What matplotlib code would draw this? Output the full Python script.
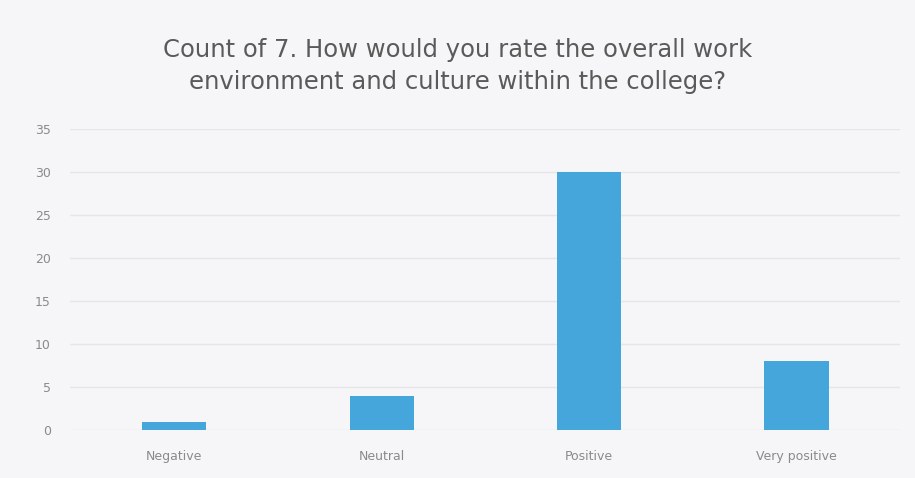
import matplotlib
matplotlib.use("Agg")
import matplotlib.pyplot as plt

categories = ["Negative", "Neutral", "Positive", "Very positive"]
counts = [1, 4, 30, 8]
yticks = [0, 5, 10, 15, 20, 25, 30, 35]

fig = plt.figure(figsize=(9.15, 4.78), dpi=100)
fig.patch.set_facecolor("#f6f6f8")
ax = fig.add_axes([0.077, 0.100, 0.907, 0.630])
ax.set_facecolor("#f6f6f8")

ax.bar(range(len(categories)), counts, width=0.31, color="#45a6dc", zorder=3)

ax.set_xlim(-0.5, len(categories) - 0.5)
ax.set_ylim(0, 35)
ax.set_yticks(yticks)
ax.set_xticks(range(len(categories)))
ax.set_xticklabels(categories)
ax.yaxis.grid(True, color="#e6e6ea", linewidth=1, zorder=0)
ax.tick_params(axis="both", length=0, colors="#8a8a8a", labelsize=9)
ax.tick_params(axis="x", pad=14)
ax.tick_params(axis="y", pad=14)
for s in ax.spines.values():
    s.set_visible(False)

fig.text(0.5, 0.862, "Count of 7. How would you rate the overall work\nenvironment and culture within the college?",
         ha="center", va="center", fontsize=17.5, color="#5a5a5a", linespacing=1.4)

fig.savefig("out.png", dpi=100, facecolor=fig.get_facecolor())
